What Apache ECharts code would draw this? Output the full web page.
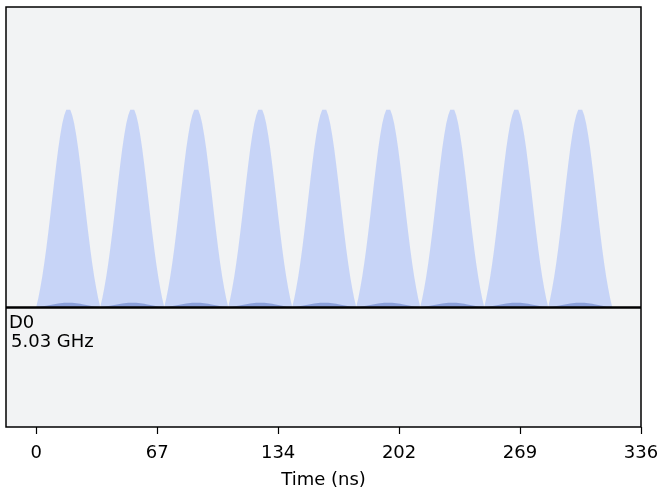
<!DOCTYPE html>
<html>
<head>
<meta charset="utf-8">
<script src="https://cdn.jsdelivr.net/npm/echarts@6/dist/echarts.min.js"></script>
<style>
html,body{margin:0;padding:0;background:#fff;}
#chart{width:660px;height:491px;}
</style>
</head>
<body>
<div id="chart"></div>
<script>
// Start time (ns) of each of the nine pulses on channel D0
const pulseStarts = [0, 35.56, 71.11, 106.67, 142.22, 177.78, 213.33, 248.89, 284.44];
// Peak amplitude of each pulse
const pulseAmps = [1, 1, 1, 1, 1, 1, 1, 1, 1];
// Time offsets (ns) inside one pulse where the envelope is read
const envOffsets = [0, 1.11, 2.22, 3.33, 4.44, 5.56, 6.67, 7.78, 8.89, 10.0, 11.11, 12.22, 13.33, 14.44, 15.56, 16.67,
  17.78, 18.89, 20.0, 21.11, 22.22, 23.33, 24.44, 25.56, 26.67, 27.78, 28.89, 30.0, 31.11, 32.22, 33.33, 34.44, 35.56];
// Real-part envelope (normalised) at those offsets
const envReal = [0, 0.043, 0.094, 0.152, 0.219, 0.293, 0.373, 0.458, 0.545, 0.632, 0.716, 0.795, 0.864, 0.921, 0.964, 0.991,
  1.0, 0.991, 0.964, 0.921, 0.864, 0.795, 0.716, 0.632, 0.545, 0.458, 0.373, 0.293, 0.219, 0.152, 0.094, 0.043, 0];
// Imaginary-part envelope (small bump) at those offsets
const envImag = [0, 0.001, 0.002, 0.003, 0.005, 0.0065, 0.008, 0.010, 0.012, 0.014, 0.016, 0.0175, 0.019, 0.020, 0.021, 0.0218,
  0.022, 0.0218, 0.021, 0.020, 0.019, 0.0175, 0.016, 0.014, 0.012, 0.010, 0.008, 0.0065, 0.005, 0.003, 0.002, 0.001, 0];
// X-axis tick positions and labels
const tickValues = [0, 67.2, 134.4, 201.6, 268.8, 336];
const tickLabels = ['0', '67', '134', '202', '269', '336'];
const channelName = 'D0';
const channelFreq = '5.03 GHz';
const xTitle = 'Time (ns)';

const realData = [], imagData = [];
pulseStarts.forEach((s, p) => {
  envOffsets.forEach((o, i) => {
    realData.push([s + o, pulseAmps[p] * envReal[i]]);
    imagData.push([s + o, pulseAmps[p] * envImag[i]]);
  });
});

const chart = echarts.init(document.getElementById('chart'), null, {renderer: 'canvas'});
const FONT = 'DejaVu Sans';
chart.setOption({
  animation: false,
  backgroundColor: '#ffffff',
  grid: {left: 6, right: 19, top: 7, bottom: 64, show: true, backgroundColor: '#f2f3f4',
         borderColor: '#000', borderWidth: 1.5, containLabel: false, outerBoundsMode: 'none'},
  xAxis: {
    type: 'value', min: -16.8, max: 336,
    name: xTitle, nameLocation: 'middle', nameGap: 44,
    nameTextStyle: {fontFamily: FONT, fontSize: 18, color: '#000'},
    axisLine: {show: false, onZero: false},
    splitLine: {show: false},
    axisTick: {show: true, inside: false, length: 7, lineStyle: {color: '#000', width: 1.2}, customValues: tickValues},
    axisLabel: {show: true, fontFamily: FONT, fontSize: 18, color: '#000', margin: 17,
      customValues: tickValues,
      formatter: v => { const i = tickValues.findIndex(t => Math.abs(t - v) < 1e-6); return i >= 0 ? tickLabels[i] : ''; }}
  },
  yAxis: {type: 'value', min: -0.603, max: 1.508, show: false, splitLine: {show: false}},
  series: [
    {type: 'line', data: realData, showSymbol: false, symbol: 'none',
     lineStyle: {width: 0, color: '#648fff'}, itemStyle: {color: '#648fff'},
     areaStyle: {color: '#648fff', opacity: 0.3, origin: 0}, z: 2},
    {type: 'line', data: imagData, showSymbol: false, symbol: 'none',
     lineStyle: {width: 0, color: '#002999'}, itemStyle: {color: '#002999'},
     areaStyle: {color: '#002999', opacity: 0.3, origin: 0}, z: 3,
     markLine: {silent: true, symbol: 'none', label: {show: false},
       lineStyle: {color: '#000', width: 2.5, type: 'solid'}, data: [{yAxis: 0}]}}
  ],
  graphic: [
    {type: 'text', x: 9, y: 323, style: {text: channelName, fontFamily: FONT, fontSize: 18, fill: '#000', verticalAlign: 'middle'}, z: 10},
    {type: 'text', x: 11, y: 342, style: {text: channelFreq, fontFamily: FONT, fontSize: 18, fill: '#000', verticalAlign: 'middle'}, z: 10}
  ]
});
</script>
</body>
</html>
